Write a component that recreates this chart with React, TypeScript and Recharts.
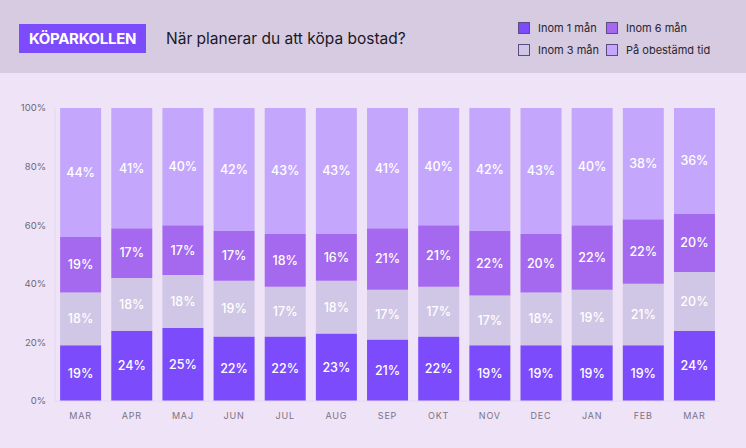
import React from 'react';
import { BarChart, Bar, XAxis, YAxis, LabelList } from 'recharts';

const months = ['MAR', 'APR', 'MAJ', 'JUN', 'JUL', 'AUG', 'SEP', 'OKT', 'NOV', 'DEC', 'JAN', 'FEB', 'MAR'];
const inom1 = [19, 24, 25, 22, 22, 23, 21, 22, 19, 19, 19, 19, 24];
const inom3 = [18, 18, 18, 19, 17, 18, 17, 17, 17, 18, 19, 21, 20];
const inom6 = [19, 17, 17, 17, 18, 16, 21, 21, 22, 20, 22, 22, 20];
const obestamd = [44, 41, 40, 42, 43, 43, 41, 40, 42, 43, 40, 38, 36];
const yTicks = [0, 20, 40, 60, 80, 100];

const series = [
  { key: 'inom1', name: 'Inom 1 mån', color: '#7c4bfc' },
  { key: 'inom3', name: 'Inom 3 mån', color: '#d0c6e5' },
  { key: 'inom6', name: 'Inom 6 mån', color: '#a469ee' },
  { key: 'obestamd', name: 'På obestämd tid', color: '#c4a7fc' },
];

const data = months.map((m, i) => ({
  month: m,
  inom1: inom1[i],
  inom3: inom3[i],
  inom6: inom6[i],
  obestamd: obestamd[i],
}));

const FONT = 'Inter, "Noto Sans", sans-serif';

const legendItems = [series[0], series[2], series[1], series[3]];

export default function App() {
  return (
    <div style={{ width: 746, height: 448, position: 'relative', fontFamily: FONT, background: '#efe3f7', overflow: 'hidden' }}>
      <style>{'body{margin:0}'}</style>
      <div style={{ position: 'absolute', left: 0, top: 0, width: 746, height: 73, background: '#d6cbe0' }}>
        <div style={{ position: 'absolute', left: 19, top: 24, width: 127, height: 29, background: '#7c4bfc', color: '#fff', fontWeight: 700, fontSize: 15, lineHeight: '29px', textAlign: 'center', letterSpacing: -0.3 }}>
          KÖPARKOLLEN
        </div>
        <div style={{ position: 'absolute', left: 166, top: 28, fontSize: 15.5, color: '#1b1726', lineHeight: '22px' }}>
          När planerar du att köpa bostad?
        </div>
        <div style={{ position: 'absolute', left: 518, top: 21, width: 220 }}>
          {legendItems.map((s, i) => (
            <div key={s.key} style={{ position: 'absolute', left: i % 2 === 0 ? 0 : 88, top: i < 2 ? 0 : 22, display: 'flex', alignItems: 'center', fontSize: 11, color: '#2a2533', whiteSpace: 'nowrap' }}>
              <span style={{ display: 'inline-block', width: 12, height: 12, background: s.color, border: '1px solid #5c4a80', boxSizing: 'border-box', marginRight: 8 }} />
              {s.name}
            </div>
          ))}
        </div>
      </div>
      <div style={{ position: 'absolute', left: 0, top: 73 }}>
        <BarChart width={746} height={375} data={data} margin={{ top: 35, right: 26, bottom: 17, left: 0 }} barCategoryGap="10%">
          <XAxis
            dataKey="month"
            axisLine={{ stroke: '#e3d8ee' }}
            tickLine={false}
            tick={{ fontSize: 9, fill: '#7a7384', fontFamily: FONT, letterSpacing: 0.8 }}
            tickMargin={6}
          />
          <YAxis
            domain={[0, 100]}
            ticks={yTicks}
            width={55}
            axisLine={{ stroke: '#e3d8ee' }}
            tickLine={false}
            tickFormatter={(v) => `${v}%`}
            tick={{ fontSize: 9.5, fill: '#6e6878', fontFamily: FONT }}
            tickMargin={3}
          />
          {series.map((s) => (
            <Bar key={s.key} dataKey={s.key} name={s.name} stackId="a" fill={s.color} isAnimationActive={false}>
              <LabelList
                dataKey={s.key}
                position="center"
                formatter={(v) => `${v}%`}
                style={{ fill: '#ffffff', fontSize: 12.5, fontWeight: 500, fontFamily: FONT }}
              />
            </Bar>
          ))}
        </BarChart>
      </div>
    </div>
  );
}
